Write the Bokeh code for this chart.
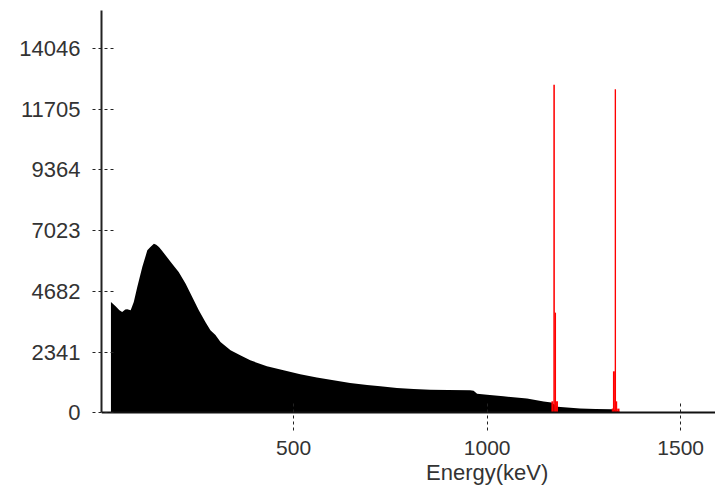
from bokeh.plotting import figure
from bokeh.models import FixedTicker, Label, Range1d
from bokeh.embed import file_html
from bokeh.resources import INLINE

# Continuum (black): energy (keV) and counts
energy_kev = [28, 28, 40, 50, 57, 65, 70, 79, 87, 96, 109, 122, 130, 139, 145, 152,
              160, 169, 186, 203, 221, 238, 255, 272, 285, 298, 311, 337, 362, 388,
              431, 474, 517, 560, 603, 646, 690, 724, 767, 810, 853, 900, 956, 965,
              974, 1000, 1042, 1103, 1146, 1166, 1182, 1190, 1240, 1280, 1322, 1344,
              1360, 1590]
counts = [0, 4273, 4108, 3960, 3889, 3990, 3992, 3954, 4273, 4851, 5621, 6264, 6391,
          6520, 6480, 6391, 6250, 6071, 5750, 5429, 4981, 4466, 3954, 3500, 3184,
          3000, 2735, 2414, 2221, 2029, 1798, 1644, 1490, 1363, 1259, 1155, 1080,
          1028, 960, 925, 900, 890, 873, 860, 745, 700, 643, 560, 440, 400, 240,
          231, 169, 150, 142, 38, 38, 30]

# Peak regions (red) : channel left/right edges (keV) and counts
roi_left = [1166, 1171, 1174.5, 1178, 1322, 1325, 1329.5, 1332, 1336]
roi_right = [1171, 1175, 1178, 1183, 1325, 1330, 1333, 1336, 1342]
roi_counts = [450, 12645, 3865, 450, 169, 1605, 12463, 450, 169]

y_ticks = [0, 2341, 4682, 7023, 9364, 11705, 14046]
x_ticks = [500, 1000, 1500]
x_title = "Energy(keV)"
y_top = 15500

FONT = "Liberation Sans"
TXT = "#333333"

p = figure(frame_width=614, frame_height=475, output_backend="svg",
           toolbar_location=None, x_range=Range1d(3.6, 1590),
           y_range=Range1d(-2792, y_top),
           min_border_left=101, min_border_top=10, min_border_right=0,
           min_border_bottom=0)
p.outline_line_color = None
p.grid.visible = False
p.background_fill_color = "white"
p.border_fill_color = "white"

p.varea(x=energy_kev, y1=[0] * len(counts), y2=counts, fill_color="black")
p.quad(left=roi_left, right=roi_right, bottom=[0] * len(roi_counts), top=roi_counts,
       fill_color="#ff0000", line_color=None)

xa = p.xaxis[0]
xa.fixed_location = 0
xa.ticker = FixedTicker(ticks=x_ticks)
xa.minor_tick_line_color = None
xa.major_tick_in = 12
xa.major_tick_out = 18
xa.major_tick_line_dash = "3 3"
xa.major_tick_line_color = "#222222"
xa.axis_line_color = "#111111"
xa.axis_line_width = 2
xa.major_label_text_font = FONT
xa.major_label_text_font_size = "21px"
xa.major_label_text_color = TXT
xa.major_label_standoff = 10

ya = p.yaxis[0]
ya.bounds = (0, y_top)
ya.ticker = FixedTicker(ticks=y_ticks)
ya.minor_tick_line_color = None
ya.major_tick_in = 12
ya.major_tick_out = 9
ya.major_tick_line_dash = "3 3"
ya.major_tick_line_color = "#222222"
ya.axis_line_color = "#222222"
ya.axis_line_width = 2
ya.major_label_text_font = FONT
ya.major_label_text_font_size = "22px"
ya.major_label_text_color = TXT
ya.major_label_standoff = 12

p.add_layout(Label(x=1000, y=13, x_units="data", y_units="screen", text=x_title,
                   text_align="center", text_baseline="alphabetic",
                   text_font=FONT, text_font_size="22px", text_color=TXT))

open("out.html", "w").write(file_html(p, INLINE))
